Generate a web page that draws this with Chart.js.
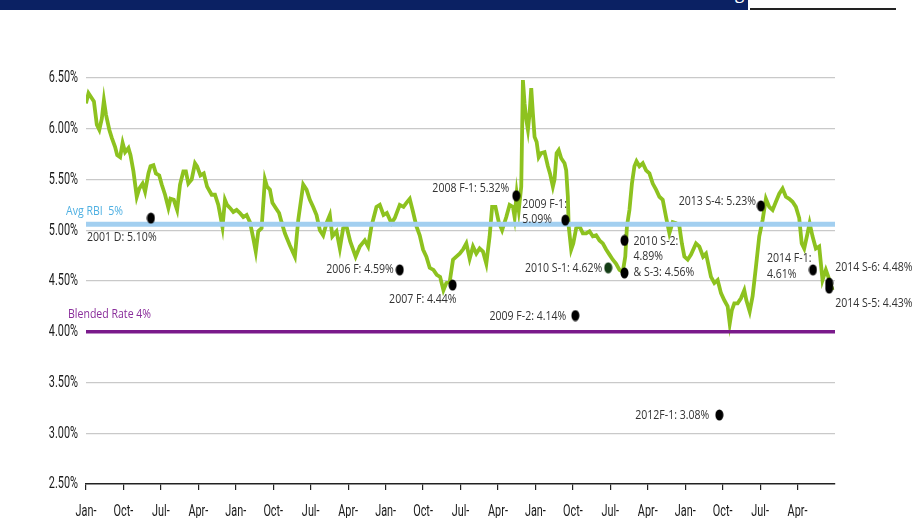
<!DOCTYPE html>
<html>
<head>
<meta charset="utf-8">
<script src="https://cdn.jsdelivr.net/npm/chart.js@4"></script>
<style>
  html, body { margin: 0; padding: 0; background: #fff; overflow: hidden; }
  #wrap { position: relative; width: 920px; height: 518px; }
  #bar { position: absolute; left: 0; top: 0; width: 748px; height: 10px; background: #0b2163; overflow: hidden; }
  #bar span { position: absolute; left: 735px; top: -19px; color: #fff; font: 17px "Open Sans", sans-serif; }
  #rule { position: absolute; left: 750px; top: 8px; width: 146px; height: 2px; background: #222; }
  canvas { position: absolute; left: 0; top: 0; }
</style>
</head>
<body>
<div id="wrap">
  <canvas id="rateChart" width="920" height="518"></canvas>
  <div id="bar"><span>g</span></div>
  <div id="rule"></div>
</div>
<script>
// x axis tick labels, one every 9 months from Jan-00
const tickLabels = ["Jan-00", "Oct-00", "Jul-01", "Apr-02", "Jan-03", "Oct-03", "Jul-04", "Apr-05",
    "Jan-06", "Oct-06", "Jul-07", "Apr-08", "Jan-09", "Oct-09", "Jul-10", "Apr-11",
    "Jan-12", "Oct-12", "Jul-13", "Apr-14"];
const yTicks = [2.5, 3.0, 3.5, 4.0, 4.5, 5.0, 5.5, 6.0, 6.5];

// rate series: months since Jan-00 and the rate in %
const rateMonths = [0.0, 0.6, 1.4, 1.9, 2.6, 3.2, 3.8, 4.3, 4.8, 5.6, 6.2, 7.0, 7.5, 8.2, 8.8, 9.4, 10.2, 10.7,
    11.4, 12.2, 12.8, 13.6, 14.2, 15.0, 15.5, 16.2, 16.8, 17.6, 18.2, 19.0, 19.8, 20.3, 21.1, 21.9, 22.6,
    23.4, 24.0, 24.6, 25.4, 26.2, 26.7, 27.5, 28.3, 29.1, 30.2, 31.0, 31.8, 32.8, 33.4, 33.9, 34.6, 35.4,
    36.2, 37.0, 37.8, 38.6, 39.4, 40.2, 40.8, 41.4, 42.2, 43.0, 43.5, 44.2, 44.8, 45.6, 46.4, 47.0, 47.8,
    49.0, 50.2, 51.0, 52.2, 53.0, 53.8, 54.6, 55.4, 56.2, 57.0, 57.8, 58.6, 59.2, 60.2, 61.0, 61.8, 62.6,
    63.5, 64.8, 65.8, 67.0, 67.8, 68.6, 69.8, 70.6, 71.5, 72.3, 73.4, 74.2, 75.4, 76.3, 77.0, 77.8, 78.6,
    79.4, 80.2, 81.0, 81.8, 82.6, 83.5, 84.3, 85.1, 85.9, 86.6, 87.4, 88.2, 89.0, 89.8, 90.6, 91.4, 92.2,
    93.0, 93.8, 94.6, 95.4, 96.2, 97.0, 97.6, 98.4, 99.2, 100.0, 101.0, 101.8, 102.6, 103.0, 103.5, 104.0,
    104.6, 105.0, 105.4, 105.8, 106.2, 106.6, 107.0, 107.4, 107.8, 108.3, 108.8, 109.4, 110.2, 111.0,
    111.5, 112.2, 112.6, 113.1, 113.6, 114.2, 115.0, 115.4, 115.8, 116.0, 116.6, 117.1, 117.8, 118.6,
    119.4, 120.2, 121.0, 121.8, 122.6, 123.4, 124.2, 125.0, 125.8, 126.6, 127.4, 128.2, 129.0, 129.6,
    130.0, 130.6, 131.2, 131.8, 132.3, 133.0, 133.8, 134.6, 135.4, 136.2, 137.0, 137.8, 138.6, 139.4,
    140.2, 141.0, 141.8, 142.6, 143.2, 143.8, 144.6, 145.4, 146.6, 147.4, 148.3, 149.0, 150.2, 151.0,
    151.8, 152.6, 153.4, 154.2, 154.7, 155.2, 155.8, 156.6, 157.4, 158.2, 158.7, 159.5, 160.2, 161.0,
    161.8, 162.6, 163.4, 164.2, 165.0, 165.8, 166.6, 167.4, 168.2, 169.0, 169.8, 170.6, 171.4, 172.0,
    172.6, 173.4, 173.9, 174.6, 175.4, 176.2, 177.0, 177.8, 178.4, 179.4];
const rateValues = [6.25, 6.35, 6.30, 6.27, 6.04, 5.99, 6.10, 6.28, 6.14, 5.99, 5.91, 5.82, 5.74, 5.72, 5.86, 5.77, 5.81, 5.74,
    5.58, 5.33, 5.41, 5.46, 5.38, 5.56, 5.63, 5.64, 5.56, 5.54, 5.45, 5.35, 5.22, 5.31, 5.30, 5.20, 5.45,
    5.58, 5.58, 5.46, 5.50, 5.66, 5.63, 5.54, 5.56, 5.43, 5.35, 5.35, 5.25, 5.03, 5.30, 5.25, 5.22, 5.18,
    5.20, 5.17, 5.13, 5.15, 5.08, 4.92, 4.79, 4.99, 5.02, 5.50, 5.43, 5.40, 5.27, 5.22, 5.17, 5.08, 4.97,
    4.85, 4.74, 5.10, 5.45, 5.40, 5.30, 5.23, 5.15, 5.00, 4.95, 5.07, 5.15, 4.94, 4.99, 4.82, 5.02, 5.04,
    4.89, 4.74, 4.84, 4.90, 4.84, 5.04, 5.23, 5.25, 5.15, 5.17, 5.07, 5.12, 5.25, 5.23, 5.27, 5.31, 5.18,
    5.04, 4.95, 4.81, 4.74, 4.63, 4.61, 4.56, 4.54, 4.41, 4.48, 4.49, 4.71, 4.74, 4.77, 4.81, 4.87, 4.72,
    4.84, 4.77, 4.82, 4.79, 4.67, 4.94, 5.23, 5.23, 5.08, 5.00, 5.13, 5.25, 5.23, 5.13, 5.36, 5.20,
    5.43, 6.48, 6.25, 6.09, 5.99, 6.15, 6.40, 6.15, 5.92, 5.87, 5.72, 5.76, 5.77, 5.63,
    5.56, 5.43, 5.50, 5.76, 5.79, 5.71, 5.66, 5.59, 5.33, 5.04, 4.81, 4.87, 5.02, 5.04,
    4.97, 4.97, 4.99, 4.94, 4.95, 4.90, 4.87, 4.81, 4.76, 4.71, 4.67, 4.61, 4.59, 4.74,
    5.04, 5.20, 5.46, 5.63, 5.68, 5.63, 5.66, 5.59, 5.56, 5.46, 5.40, 5.33, 5.30, 5.13,
    4.97, 5.08, 5.07, 5.04, 4.87, 4.74, 4.71, 4.76, 4.87, 4.84, 4.74, 4.77, 4.54, 4.48,
    4.51, 4.38, 4.31, 4.25, 4.08, 4.21, 4.28, 4.28, 4.33, 4.41, 4.31, 4.20, 4.35, 4.64,
    4.94, 5.10, 5.31, 5.23, 5.20, 5.28, 5.36, 5.41, 5.33, 5.31, 5.28, 5.23, 5.12, 4.87,
    4.82, 4.97, 5.07, 4.94, 4.82, 4.84, 4.51, 4.61, 4.54, 4.41];

// reference levels
const avgRbi = 5.06;
const blendedRate = 4.00;

// issuance markers
const markerMonths = [15.6, 75.4, 88.1, 103.4, 115.2, 117.6, 125.5, 129.4, 129.4, 152.2, 162.2, 174.7, 178.6, 178.6];
const markerValues = [5.12, 4.61, 4.46, 5.34, 5.10, 4.16, 4.63, 4.90, 4.58, 3.18, 5.24, 4.61, 4.48, 4.43];
const markerLabels = [["2001 D: 5.10%"], ["2006 F: 4.59%"], ["2007 F: 4.44%"], ["2008 F-1: 5.32%"],
    ["2009 F-1:", "5.09%"], ["2009 F-2: 4.14%"], ["2010 S-1: 4.62%"], ["2010 S-2:", "4.89%", "& S-3: 4.56%"], [],
    ["2012F-1: 3.08%"], ["2013 S-4: 5.23%"], ["2014 F-1:", "4.61%"], ["2014 S-6: 4.48%"], ["2014 S-5: 4.43%"]];

// black (and one dark green) oval markers
function makeOval(color) {
    const c = document.createElement("canvas");
    c.width = 9; c.height = 12;
    const g = c.getContext("2d");
    g.fillStyle = color;
    g.beginPath();
    g.ellipse(4.5, 6, 4, 5.6, 0, 0, Math.PI * 2);
    g.fill();
    return c;
}
const blackOval = makeOval("#000");
const greenOval = makeOval("#143d16");

// narrow-looking text, squeezed horizontally
function drawText(ctx, text, x, y, align, color, font, squeeze, baseline) {
    ctx.save();
    ctx.translate(x, y);
    ctx.scale(squeeze, 1);
    ctx.font = font;
    ctx.fillStyle = color;
    ctx.textAlign = align;
    ctx.textBaseline = baseline || "middle";
    ctx.fillText(text, 0, 0);
    ctx.restore();
}

const annoFont = '12px "Open Sans", sans-serif';
const tickFont = '17px Roboto, sans-serif';

// where each marker label sits relative to its dot
const labelLayout = [
    { dx: -64, dy: 20, align: "left" },
    { dx: -6, dy: 0, align: "right" },
    { dx: 4, dy: 15, align: "right" },
    { dx: -7, dy: -7, align: "right" },
    { dx: -43, dy: -16, align: "left", lh: 15 },
    { dx: -9, dy: 1, align: "right" },
    { dx: -6, dy: 1, align: "right" },
    { dx: 9, dy: 1, align: "left", lh: 15.5 },
    null,
    { dx: -10, dy: 1, align: "right" },
    { dx: -5, dy: -4, align: "right" },
    { dx: -46, dy: -11, align: "left", lh: 16 },
    { dx: 6, dy: -15, align: "left" },
    { dx: 6, dy: 15, align: "left" }
];

const labelPlugin = {
    id: "labels",
    afterDraw(chart) {
        const ctx = chart.ctx;
        const xs = chart.scales.x, ys = chart.scales.y;

        // axis tick labels
        yTicks.forEach((v) => {
            drawText(ctx, v.toFixed(2) + "%", 78, ys.getPixelForValue(v), "right", "#1a1a1a", tickFont, 0.64);
        });
        tickLabels.forEach((t, i) => {
            const p = t.split("-");
            drawText(ctx, p[0] + "-", xs.getPixelForValue(i * 9), 503, "center", "#1a1a1a", tickFont, 0.64, "top");
            drawText(ctx, p[1], xs.getPixelForValue(i * 9), 522, "center", "#1a1a1a", tickFont, 0.64, "top");
        });

        drawText(ctx, "Avg RBI  5%", 66, ys.getPixelForValue(avgRbi) - 13, "left", "#4fb0e2", annoFont, 0.88);
        drawText(ctx, "Blended Rate 4%", 68, ys.getPixelForValue(blendedRate) - 17, "left", "#8a2d9b", annoFont, 0.88);
        markerLabels.forEach((lines, i) => {
            const l = labelLayout[i];
            if (!l) return;
            const px = xs.getPixelForValue(markerMonths[i]);
            const py = ys.getPixelForValue(markerValues[i]);
            lines.forEach((t, j) => {
                drawText(ctx, t, px + l.dx, py + l.dy + j * (l.lh || 0), l.align, "#333", annoFont, 0.88);
            });
        });
    }
};

new Chart(document.getElementById("rateChart"), {
    type: "line",
    data: {
        datasets: [
            {
                data: rateMonths.map((m, i) => ({ x: m, y: rateValues[i] })),
                borderColor: "#8dc21f",
                borderWidth: 3.8,
                pointRadius: 0,
                tension: 0,
                order: 3
            },
            {
                data: [{ x: 0, y: avgRbi }, { x: 180, y: avgRbi }],
                borderColor: "#a2cff0",
                borderWidth: 5,
                pointRadius: 0,
                order: 2
            },
            {
                data: [{ x: 0, y: blendedRate }, { x: 180, y: blendedRate }],
                borderColor: "#7a1a8b",
                borderWidth: 3.5,
                pointRadius: 0,
                order: 2
            },
            {
                type: "scatter",
                data: markerMonths.map((m, i) => ({ x: m, y: markerValues[i] })),
                pointStyle: (c) => (c.dataIndex === 6 ? greenOval : blackOval),
                pointRadius: 5,
                order: 1
            }
        ]
    },
    options: {
        responsive: false,
        animation: false,
        layout: { padding: { top: 78, right: 85, bottom: 0, left: 0 } },
        plugins: { legend: { display: false }, tooltip: { enabled: false } },
        scales: {
            x: {
                type: "linear",
                min: 0,
                max: 180,
                afterBuildTicks: (s) => { s.ticks = tickLabels.map((_, i) => ({ value: i * 9 })); },
                afterFit: (s) => { s.height = 34; },
                ticks: { display: false },
                grid: { drawOnChartArea: false, drawTicks: true, tickLength: 6, color: "#222", lineWidth: 1.2 },
                border: { display: true, color: "#222", width: 1.5 }
            },
            y: {
                min: 2.5,
                max: 6.5,
                afterBuildTicks: (s) => { s.ticks = yTicks.map((v) => ({ value: v })); },
                afterFit: (s) => { s.width = 86; },
                ticks: { display: false },
                grid: {
                    drawTicks: false,
                    lineWidth: 1.3,
                    color: (c) => (c.tick && c.tick.value === 2.5 ? "rgba(0,0,0,0)" : "#c9c9c9")
                },
                border: { display: false }
            }
        }
    },
    plugins: [labelPlugin]
});
</script>
</body>
</html>
